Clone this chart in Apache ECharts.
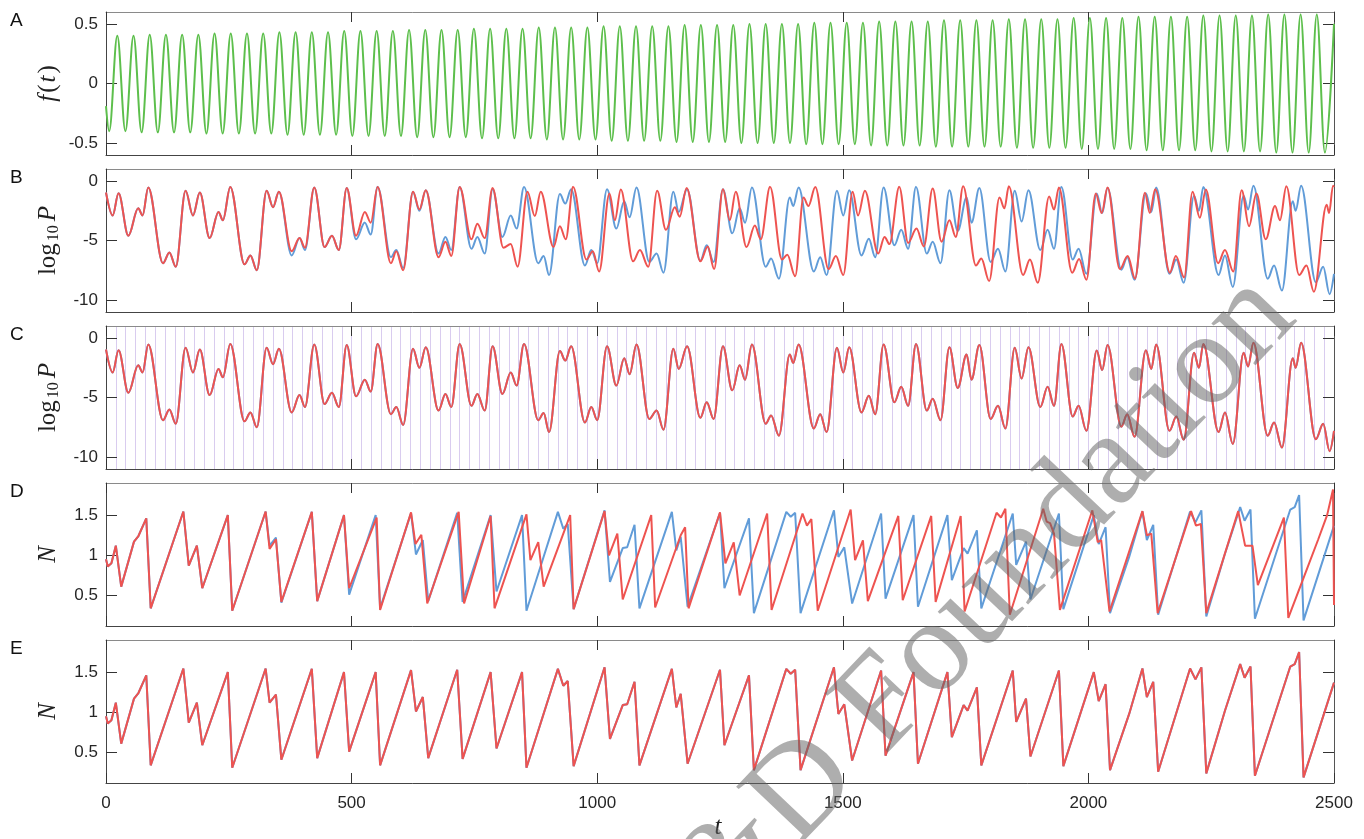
<!DOCTYPE html>
<html>
<head>
<meta charset="utf-8">
<script src="https://cdn.jsdelivr.net/npm/echarts@6/dist/echarts.min.js"></script>
<style>
  html, body { margin: 0; padding: 0; background: #fff; }
  #chart { width: 1364px; height: 839px; }
</style>
</head>
<body>
<div id="chart"></div>
<script>
// ---------------- data ----------------
// A: forcing f(t), successive extrema (troughs / crests) of the oscillation
const fT = [0,
  6.5, 23, 39.5, 56, 72.5, 89, 105.5, 122, 138.5, 155,
  171.5, 188, 204.5, 221, 237.5, 254, 270.5, 287, 303.5, 320,
  336.5, 353, 369.5, 386, 402.5, 419, 435.5, 452, 468.5, 485,
  501.5, 518, 534.5, 551, 567.5, 584, 600.5, 617, 633.5, 650,
  666.5, 683, 699.5, 716, 732.5, 749, 765.5, 782, 798.5, 815,
  831.5, 848, 864.5, 881, 897.5, 914, 930.5, 947, 963.5, 980,
  996.5, 1013, 1029.5, 1046, 1062.5, 1079, 1095.5, 1112, 1128.5, 1145,
  1161.5, 1178, 1194.5, 1211, 1227.5, 1244, 1260.5, 1277, 1293.5, 1310,
  1326.5, 1343, 1359.5, 1376, 1392.5, 1409, 1425.5, 1442, 1458.5, 1475,
  1491.5, 1508, 1524.5, 1541, 1557.5, 1574, 1590.5, 1607, 1623.5, 1640,
  1656.5, 1673, 1689.5, 1706, 1722.5, 1739, 1755.5, 1772, 1788.5, 1805,
  1821.5, 1838, 1854.5, 1871, 1887.5, 1904, 1920.5, 1937, 1953.5, 1970,
  1986.5, 2003, 2019.5, 2036, 2052.5, 2069, 2085.5, 2102, 2118.5, 2135,
  2151.5, 2168, 2184.5, 2201, 2217.5, 2234, 2250.5, 2267, 2283.5, 2300,
  2316.5, 2333, 2349.5, 2366, 2382.5, 2399, 2415.5, 2432, 2448.5, 2465,
  2481.5, 2500];
const fV = [-0.19,
  -0.40, 0.40, -0.40, 0.40,
  -0.41, 0.41, -0.41, 0.41, -0.41, 0.41, -0.41, 0.41,
  -0.42, 0.42, -0.42, 0.42, -0.42, 0.42, -0.42, 0.42, -0.42,
  0.43, -0.43, 0.43, -0.43, 0.43, -0.43, 0.43, -0.43,
  0.44, -0.44, 0.44, -0.44, 0.44, -0.44, 0.44, -0.44,
  0.45, -0.45, 0.45, -0.45, 0.45, -0.45, 0.45, -0.45,
  0.46, -0.46, 0.46, -0.46, 0.46, -0.46, 0.46, -0.46,
  0.47, -0.47, 0.47, -0.47, 0.47, -0.47, 0.47, -0.47,
  0.48, -0.48, 0.48, -0.48, 0.48, -0.48, 0.48, -0.48, 0.48,
  -0.49, 0.49, -0.49, 0.49, -0.49, 0.49, -0.49, 0.49,
  -0.50, 0.50, -0.50, 0.50, -0.50, 0.50, -0.50, 0.50,
  -0.51, 0.51, -0.51, 0.51, -0.51, 0.51, -0.51, 0.51,
  -0.52, 0.52, -0.52, 0.52, -0.52, 0.52, -0.52, 0.52,
  -0.53, 0.53, -0.53, 0.53, -0.53, 0.53, -0.53, 0.53, -0.53,
  0.54, -0.54, 0.54, -0.54, 0.54, -0.54, 0.54, -0.54,
  0.55, -0.55, 0.55, -0.55, 0.55, -0.55, 0.55, -0.55,
  0.56, -0.56, 0.56, -0.56, 0.56, -0.56, 0.56, -0.56,
  0.57, -0.57, 0.57, -0.57, 0.57, -0.57, 0.57, -0.57,
  0.58, -0.58, 0.58, -0.58, 0.58, -0.58, 0.58, -0.58,
  0.50];

// B (blue) and C (red): log10 P of the reference trajectory
const pTrueT = [0, 13.6, 25.5, 45.5, 65.5, 74.5, 86,
  116, 129, 142, 162, 177, 191,
  211, 229, 238, 253,
  282, 294, 307, 327, 340, 352,
  378, 394, 405, 424,
  445, 460, 474, 490,
  509, 527, 539, 553,
  580, 591, 605, 625, 638, 651,
  677, 691, 703, 720,
  744, 756, 771, 787,
  807, 824, 836, 851,
  880, 891, 902, 924, 935, 947,
  975, 988, 1000, 1020,
  1039, 1055, 1066, 1080,
  1106, 1121, 1135, 1155, 1166, 1183,
  1210, 1223, 1237, 1256,
  1275, 1290, 1301, 1315,
  1343, 1354, 1370, 1392, 1399, 1410,
  1441, 1454, 1467, 1488, 1501, 1513,
  1538, 1553, 1566, 1583,
  1605, 1619, 1633, 1649,
  1671, 1683, 1699, 1717,
  1734, 1752, 1762, 1778,
  1801, 1816, 1831, 1850, 1864, 1878,
  1902, 1917, 1930, 1945,
  1968, 1980, 1996, 2017, 2028, 2039,
  2067, 2079, 2094, 2117, 2128, 2138,
  2165, 2179, 2194, 2215, 2225, 2234,
  2265, 2278, 2294, 2316, 2325, 2336,
  2365, 2378, 2394, 2416, 2422, 2433,
  2463, 2478, 2491, 2500];
const pTrueV = [-0.97, -2.9, -1.03, -4.6, -2.3, -2.9, -0.55,
  -6.9, -6.0, -7.2, -0.83, -2.9, -0.97,
  -4.8, -2.6, -3.3, -0.5,
  -7.0, -6.25, -7.5, -0.83, -2.2, -0.9,
  -6.25, -4.8, -5.8, -0.55,
  -5.55, -4.6, -5.8, -0.6,
  -4.9, -3.5, -4.5, -0.5,
  -6.4, -5.8, -7.3, -0.9, -2.5, -0.78,
  -6.1, -4.7, -5.8, -0.5,
  -5.7, -4.7, -6.1, -0.7,
  -4.7, -2.9, -4.0, -0.5,
  -6.9, -6.3, -7.9, -1.1, -1.9, -0.7,
  -7.1, -5.8, -6.9, -0.7,
  -4.0, -1.7, -3.05, -0.55,
  -6.8, -6.1, -7.7, -0.9, -2.6, -0.7,
  -6.7, -5.4, -6.8, -0.7,
  -4.4, -2.3, -3.5, -0.55,
  -7.2, -6.5, -8.2, -1.4, -2.1, -0.55,
  -7.6, -6.4, -7.9, -0.83, -2.9, -0.78,
  -6.25, -4.86, -6.4, -0.55,
  -5.4, -4.1, -5.7, -0.5,
  -6.1, -5.1, -6.9, -0.78,
  -4.2, -1.4, -3.5, -0.6,
  -6.8, -5.7, -7.6, -0.83, -3.4, -0.78,
  -5.8, -4.1, -5.7, -0.5,
  -6.6, -5.7, -7.8, -1.05, -2.7, -0.6,
  -7.45, -6.4, -8.3, -1.03, -2.6, -0.55,
  -7.8, -6.6, -8.55, -1.25, -2.5, -0.5,
  -7.9, -6.25, -8.9, -1.25, -2.4, -0.4,
  -8.2, -7.1, -9.2, -1.7, -2.5, -0.4,
  -8.5, -7.2, -9.5, -7.8];

// B (red): log10 P of the model run
const pModelT = [0, 13.6, 25.5, 45.5, 65.5, 74.5, 86,
  116, 129, 142, 162, 177, 191,
  211, 229, 238, 253,
  282, 294, 307, 327, 340, 352,
  378, 394, 405, 424,
  445, 460, 474, 490,
  509, 527, 539, 553,
  580, 591, 605, 625, 638, 651,
  677, 691, 703, 720,
  744, 756, 771, 787,
  809, 824, 838, 858, 873, 885,
  911, 924, 936, 951,
  978, 991, 1004, 1025, 1036, 1048,
  1073, 1087, 1104, 1122,
  1140, 1158, 1168, 1182,
  1210, 1225, 1238, 1256, 1270, 1282,
  1304, 1321, 1333, 1352,
  1376, 1387, 1403, 1420, 1430, 1444,
  1471, 1486, 1501, 1520, 1531, 1545,
  1572, 1585, 1595, 1615,
  1633, 1650, 1665, 1683,
  1701, 1717, 1730, 1745,
  1771, 1782, 1798, 1819, 1829, 1838,
  1867, 1881, 1897, 1920, 1930, 1940,
  1967, 1981, 1996, 2015, 2027, 2039,
  2064, 2080, 2095, 2115, 2125, 2136,
  2166, 2178, 2195, 2212, 2227, 2239,
  2264, 2278, 2295, 2312, 2327, 2342,
  2361, 2380, 2390, 2403,
  2429, 2444, 2459, 2485, 2490, 2498, 2500];
const pModelV = [-0.97, -2.9, -1.03, -4.6, -2.3, -2.9, -0.55,
  -6.9, -6.0, -7.2, -0.83, -2.9, -0.97,
  -4.8, -2.6, -3.3, -0.5,
  -7.0, -6.25, -7.5, -0.83, -2.2, -0.9,
  -5.9, -4.8, -5.6, -0.55,
  -5.55, -4.6, -5.8, -0.6,
  -4.6, -2.6, -3.5, -0.5,
  -6.9, -5.9, -7.5, -0.9, -2.4, -0.78,
  -6.4, -5.1, -6.3, -0.5,
  -4.9, -3.6, -4.8, -0.6,
  -5.6, -5.3, -7.2, -0.9, -2.95, -0.9,
  -5.55, -3.8, -4.9, -0.5,
  -6.6, -5.9, -7.6, -1.05, -3.3, -0.72,
  -6.75, -5.8, -7.2, -0.83,
  -4.1, -2.2, -3.0, -0.6,
  -6.75, -5.5, -7.4, -0.7, -3.3, -0.9,
  -5.55, -3.75, -4.9, -0.5,
  -6.6, -6.2, -8.0, -1.4, -2.1, -0.5,
  -7.4, -6.3, -7.9, -0.9, -2.9, -0.83,
  -6.1, -4.7, -5.3, -0.5,
  -5.2, -4.0, -5.5, -0.64,
  -5.1, -3.3, -4.7, -0.45,
  -7.1, -6.5, -8.4, -1.4, -2.3, -0.45,
  -7.9, -6.6, -8.55, -1.3, -2.4, -0.55,
  -7.7, -6.55, -8.3, -1.05, -2.7, -0.55,
  -7.4, -6.3, -8.2, -1.0, -2.7, -0.7,
  -7.7, -6.3, -8.1, -0.9, -3.1, -0.72,
  -6.9, -5.8, -7.6, -0.78, -3.8, -1.05,
  -4.9, -2.1, -3.3, -0.45,
  -7.9, -7.1, -9.3, -2.0, -2.7, -0.4, -0.5];

// D (blue) and E: N of the reference trajectory
const nTrueT = [0, 3.6, 11, 20, 31, 57, 66, 82, 91,
  157.5, 168.5, 185, 196, 248, 257,
  325, 333, 346, 357, 419, 430,
  484.5, 495, 549, 558,
  621, 631, 645, 656, 715, 726,
  783, 795, 847, 856,
  920, 931, 940, 952,
  1015, 1026, 1052, 1061, 1076, 1086,
  1152, 1161, 1170, 1184,
  1250, 1259, 1309, 1319,
  1385, 1394, 1403, 1414,
  1482, 1491, 1503, 1519,
  1578, 1587, 1644, 1653,
  1713, 1722, 1746, 1754, 1773, 1782,
  1846, 1853, 1873, 1882, 1940, 1949,
  2011, 2021, 2035, 2044,
  2083, 2110, 2119, 2132, 2142,
  2207, 2218, 2230, 2240,
  2278, 2309, 2318, 2330, 2339,
  2411, 2420, 2429, 2438, 2500];
const nTrueV = [0.95, 0.86, 0.9, 1.12, 0.61, 1.17, 1.24, 1.46, 0.34,
  1.545, 0.87, 1.12, 0.59, 1.5, 0.31,
  1.545, 1.12, 1.22, 0.41, 1.54, 0.43,
  1.5, 0.51, 1.5, 0.34,
  1.525, 1.01, 1.19, 0.43, 1.53, 0.42,
  1.5, 0.55, 1.5, 0.31,
  1.54, 1.33, 1.39, 0.33,
  1.56, 0.67, 1.09, 1.1, 1.38, 0.34,
  1.54, 1.06, 1.23, 0.36,
  1.53, 0.59, 1.46, 0.28,
  1.54, 1.48, 1.53, 0.28,
  1.56, 0.98, 1.1, 0.4,
  1.52, 0.46, 1.5, 0.36,
  1.5, 0.69, 1.09, 1.02, 1.31, 0.34,
  1.52, 0.88, 1.17, 0.45, 1.52, 0.33,
  1.5, 1.14, 1.35, 0.28,
  0.98, 1.545, 1.19, 1.38, 0.26,
  1.545, 1.41, 1.56, 0.24,
  1.02, 1.6, 1.43, 1.57, 0.21,
  1.57, 1.6, 1.75, 0.19, 1.37];

// D (red): N of the model run
const nModelT = [0, 3.6, 11, 20, 31, 57, 66, 82, 91,
  157.5, 168.5, 185, 196, 248, 257,
  325, 333, 346, 357, 419, 430,
  484.5, 495, 551, 558,
  621, 630, 642, 654, 718, 729,
  783, 791, 856, 864, 880, 891,
  945, 952, 1015, 1024, 1041, 1052,
  1110, 1118, 1170, 1179, 1186,
  1250, 1261, 1278, 1290, 1346, 1355,
  1418, 1427, 1436, 1449,
  1516, 1525, 1541, 1551,
  1613, 1622, 1680, 1689, 1740, 1748,
  1813, 1822, 1831, 1840,
  1908, 1915, 1922, 1930, 1942,
  2008, 2019, 2026, 2043,
  2110, 2119, 2128, 2141,
  2209, 2219, 2229, 2240,
  2305, 2319, 2334, 2345,
  2398, 2407, 2440, 2468, 2486, 2498, 2500];
const nModelV = [0.95, 0.86, 0.9, 1.12, 0.61, 1.17, 1.24, 1.46, 0.34,
  1.545, 0.87, 1.12, 0.59, 1.5, 0.31,
  1.545, 1.08, 1.2, 0.42, 1.54, 0.43,
  1.5, 0.59, 1.47, 0.32,
  1.535, 1.14, 1.255, 0.40, 1.54, 0.40,
  1.49, 0.34, 1.51, 0.94, 1.165, 0.61,
  1.5, 0.33, 1.55, 1.0, 1.27, 0.45,
  1.5, 0.35, 1.25, 1.35, 0.34,
  1.535, 0.9, 1.16, 0.5, 1.52, 0.32,
  1.52, 1.37, 1.45, 0.31,
  1.57, 0.94, 1.185, 0.43,
  1.49, 0.44, 1.49, 0.42, 1.49, 0.3,
  1.53, 1.47, 1.58, 0.26,
  1.58, 1.42, 1.40, 1.27, 0.32,
  1.56, 1.165, 1.19, 0.3,
  1.55, 1.25, 1.27, 0.28,
  1.55, 1.37, 1.39, 0.28,
  1.55, 1.12, 1.12, 0.63,
  1.47, 0.22, 0.75, 1.2, 1.5, 1.82, 0.38];

// axis ticks
const tTicks = [0, 500, 1000, 1500, 2000, 2500];
const fTicks = [-0.5, 0, 0.5];
const pTicks = [-10, -5, 0];
const nTicks = [0.5, 1, 1.5];

// ---------------- layout / style ----------------
const GREEN = '#5dbf4c', RED = '#ee5350', BLUE = '#619cd8';
const SANS = '"Liberation Sans", Arial, Helvetica, sans-serif';
const SERIF = '"Liberation Serif", "Times New Roman", serif';
const LEFT = 106, RIGHT = 30, H = 143;
const tops = [12, 169, 326, 483, 640];
const panels = [
  { min: -0.6, max: 0.6, ticks: fTicks },
  { min: -11, max: 1, ticks: pTicks },
  { min: -11, max: 1, ticks: pTicks },
  { min: 0.12, max: 1.9, ticks: nTicks },
  { min: 0.12, max: 1.9, ticks: nTicks }
];

const zip = (ts, vs) => ts.map((t, i) => [t, vs[i]]);
const tickStyle = { color: '#333', width: 1 };
const labelStyle = { fontSize: 17, fontFamily: SANS, color: '#262626' };

const grid = [], xAxis = [], yAxis = [];
panels.forEach((p, i) => {
  grid.push({ left: LEFT, right: RIGHT, top: tops[i], height: H, containLabel: false });
  xAxis.push({
    type: 'value', gridIndex: i, position: 'bottom', min: 0, max: 2500,
    axisLine: { show: true, onZero: false, lineStyle: { color: '#444', width: 1 } },
    axisTick: { show: true, inside: true, length: 10, customValues: tTicks, lineStyle: tickStyle },
    axisLabel: { show: i === 4, margin: 12, customValues: tTicks, formatter: v => String(v), ...labelStyle },
    splitLine: { show: false }
  });
  xAxis.push({
    type: 'value', gridIndex: i, position: 'top', min: 0, max: 2500,
    axisLine: { show: true, onZero: false, lineStyle: { color: '#8a8a8a', width: 1 } },
    axisTick: { show: true, inside: true, length: 10, customValues: tTicks, lineStyle: tickStyle },
    axisLabel: { show: false }, splitLine: { show: false }
  });
  yAxis.push({
    type: 'value', gridIndex: i, position: 'left', min: p.min, max: p.max,
    axisLine: { show: true, onZero: false, lineStyle: { color: '#444', width: 1 } },
    axisTick: { show: true, inside: true, length: 11, customValues: p.ticks, lineStyle: tickStyle },
    axisLabel: { show: true, margin: 8, customValues: p.ticks, formatter: v => String(v), ...labelStyle },
    splitLine: { show: false }
  });
  yAxis.push({
    type: 'value', gridIndex: i, position: 'right', min: p.min, max: p.max,
    axisLine: { show: true, onZero: false, lineStyle: { color: '#555', width: 1 } },
    axisTick: { show: true, inside: true, length: 11, customValues: p.ticks, lineStyle: tickStyle },
    axisLabel: { show: false }, splitLine: { show: false }
  });
});
// sampling instants shown as faint vertical rules in panel C
xAxis.push({
  type: 'value', gridIndex: 2, position: 'bottom', min: 0, max: 2500, interval: 20,
  axisLine: { show: false }, axisTick: { show: false }, axisLabel: { show: false },
  splitLine: { show: true, lineStyle: { color: '#d9ccef', width: 1 } }
});

function line(panel, data, color, smooth, z) {
  return {
    type: 'line', xAxisIndex: panel * 2, yAxisIndex: panel * 2, data,
    showSymbol: false, symbol: 'none', smooth, smoothMonotone: 'x',
    lineStyle: { color, width: 2 }, z, animation: false, silent: true
  };
}

const series = [
  line(0, zip(fT, fV), GREEN, 0.36, 3),
  line(1, zip(pTrueT, pTrueV), BLUE, 0.35, 3),
  line(1, zip(pModelT, pModelV), RED, 0.35, 4),
  line(2, zip(pTrueT, pTrueV), BLUE, 0.35, 3),
  line(2, zip(pTrueT, pTrueV), RED, 0.35, 4),
  line(3, zip(nTrueT, nTrueV), BLUE, false, 3),
  line(3, zip(nModelT, nModelV), RED, false, 4),
  line(4, zip(nTrueT, nTrueV), BLUE, false, 3),
  line(4, zip(nTrueT, nTrueV), RED, false, 4)
];

// panel letters, axis names and the diagonal watermark
const graphic = [];
['A', 'B', 'C', 'D', 'E'].forEach((L, i) => {
  graphic.push({ type: 'text', left: 10, top: tops[i] - 1, style: { text: L, font: '19px ' + SANS, fill: '#111' } });
});
const yNames = [
  '{i|f}{r|(}{i|t}{r|)}',
  '{r|log}{s|10}{g| }{i|P}',
  '{r|log}{s|10}{g| }{i|P}',
  '{i|N}',
  '{i|N}'
];
const rich = {
  i: { font: 'italic 25px ' + SERIF, fill: '#222', padding: [0, 1, 0, 1] },
  r: { font: '25px ' + SERIF, fill: '#222', padding: [0, 1, 0, 1] },
  s: { font: '16px ' + SERIF, fill: '#222', padding: [12, 0, 0, 1] },
  g: { font: '12px ' + SERIF }
};
yNames.forEach((txt, i) => {
  graphic.push({
    type: 'text', x: 48, y: tops[i] + H / 2, rotation: Math.PI / 2,
    style: { text: txt, rich, align: 'center', verticalAlign: 'middle' }
  });
});
graphic.push({ type: 'text', x: 718, y: 827, style: { text: 't', font: 'italic 25px ' + SERIF, fill: '#222', align: 'center', verticalAlign: 'middle' } });
graphic.push({
  type: 'text', x: 592, y: 918, rotation: 46.5 * Math.PI / 180, z: 100, silent: true,
  style: { text: 'R&D Foundation', font: '132px ' + SERIF, fill: 'rgba(100,100,100,0.52)', align: 'left', verticalAlign: 'alphabetic' }
});

const chart = echarts.init(document.getElementById('chart'), null, { renderer: 'canvas' });
chart.setOption({ animation: false, backgroundColor: '#fff', grid, xAxis, yAxis, series, graphic });
</script>
</body>
</html>
